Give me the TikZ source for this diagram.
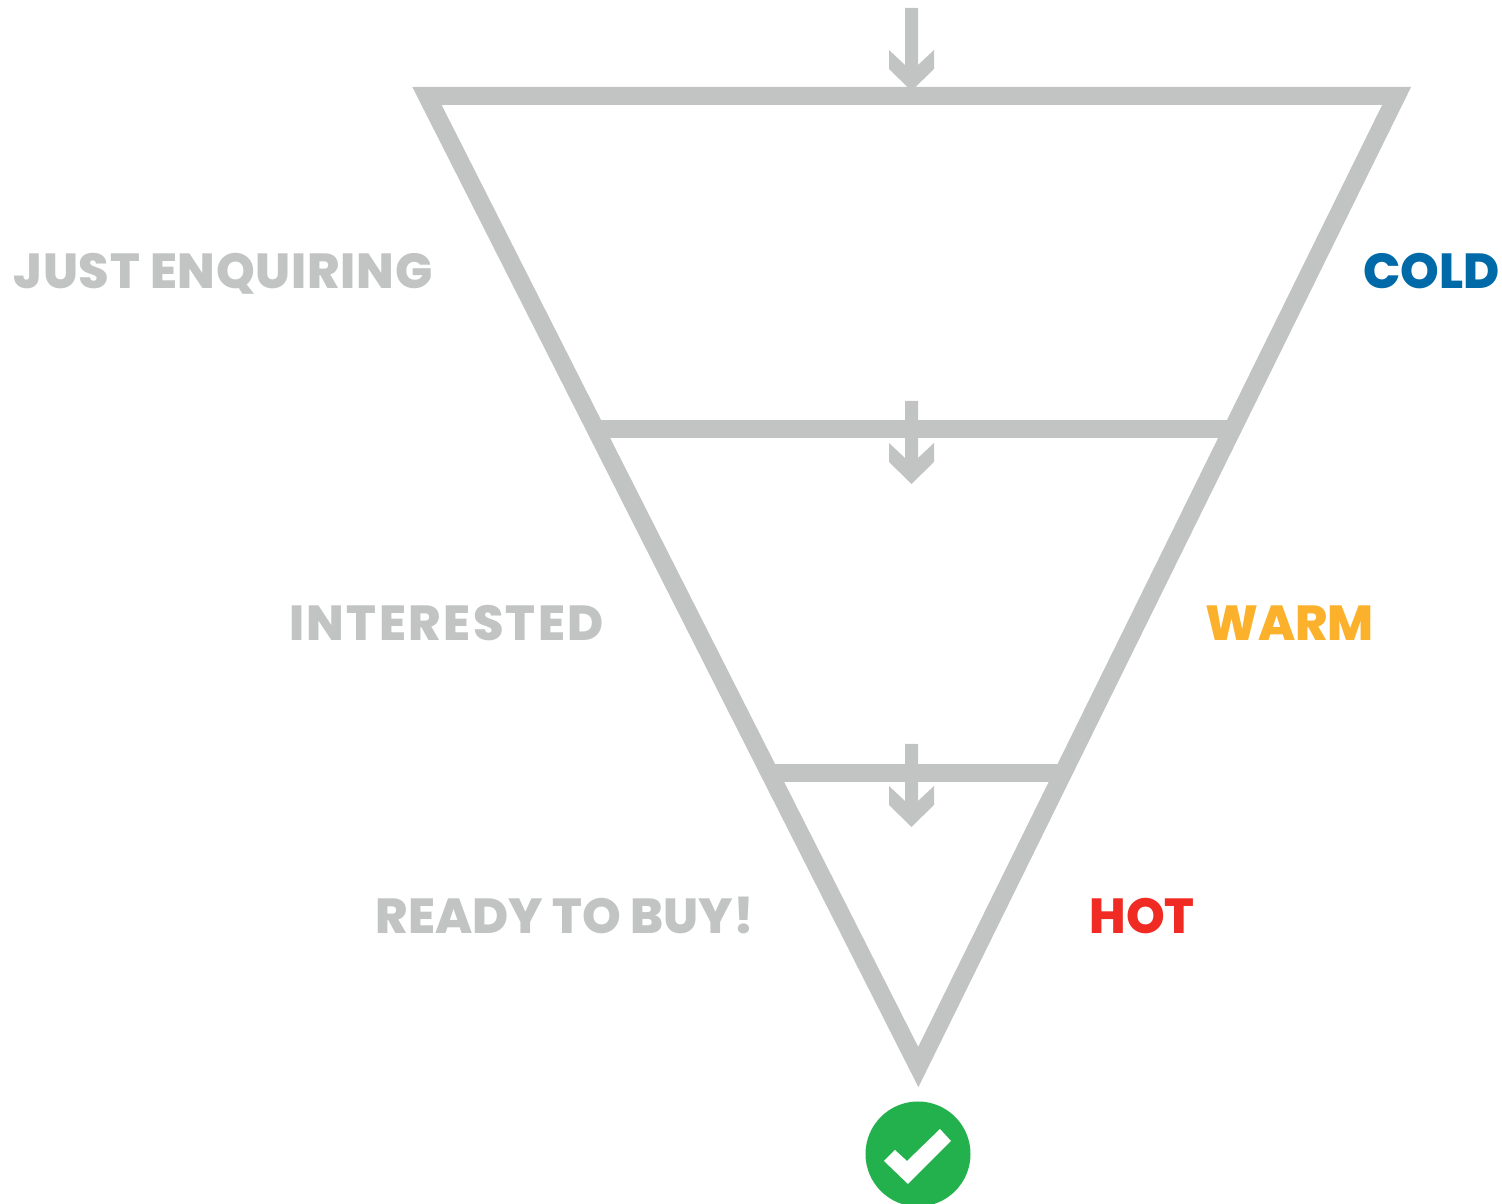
\documentclass[tikz,border=0pt]{standalone}
\usepackage{fontspec}
\usepackage{xcolor}
\usetikzlibrary{calc}
\setmainfont{Poppins}
\newfontfamily\labelfont{Poppins ExtraBold}
\definecolor{funnel}{HTML}{C2C4C3}
\definecolor{cold}{HTML}{0069A8}
\definecolor{warm}{HTML}{FBB12B}
\definecolor{hot}{HTML}{EF2B24}
\definecolor{done}{HTML}{22B14C}

\begin{document}
\begin{tikzpicture}[
          x=0.01cm,y=-0.01cm,
          every node/.style={inner sep=0pt,anchor=base},
          tracked/.style={font=\labelfont\addfontfeature{LetterSpace=#1}\fontsize{14}{17}\selectfont},
          wall/.style={draw=funnel,line width=0.18cm},
          stage/.style={text=funnel},
          temp/.style={text=#1},
          downarrow/.pic={
            \fill[funnel] (-6.5,-83) -- (6.5,-83) -- (6.5,-26) -- (22.5,-41) -- (22.5,-22)
              -- (0,0) -- (-22.5,-22) -- (-22.5,-41) -- (-6.5,-26) -- cycle;
          },
      ]
        \clip (0,0) rectangle (1502,1204);

        \coordinate (tl) at (427,96);
        \coordinate (tr) at (1396.6,96);
        \coordinate (ap) at (918.3,1067);

        % funnel outline and the two bars
        \draw[wall,miter limit=10] (tl) -- (tr) -- (ap) -- cycle;
        \draw[wall] ($(tl)!0.343!(ap)$) -- ($(tr)!0.343!(ap)$);
        \draw[wall] ($(tl)!0.697!(ap)$) -- ($(tr)!0.697!(ap)$);

        \pic at (911.5,91) {downarrow};
        \pic at (911.5,484) {downarrow};
        \pic at (911.5,827) {downarrow};

        \node[stage,tracked=1.5] (enquiring) at (223,289) {JUST ENQUIRING};
        \node[stage,tracked=5] (interested) at (446.5,641) {INTERESTED};
        \node[stage,tracked=0] (ready) at (565,934) {READY TO BUY!};

        \node[temp=cold,tracked=0] (coldlabel) at (1431.5,289) {COLD};
        \node[temp=warm,tracked=0] (warmlabel) at (1289.5,641) {WARM};
        \node[temp=hot,tracked=0] (hotlabel) at (1142,934) {HOT};

        % check badge
        \fill[done] (918,1154) circle (52.5);
        \fill[white] (884,1161) -- (895,1150) -- (907,1161) -- (940,1129) -- (951,1141)
          -- (908,1184) -- cycle;
      \end{tikzpicture}
\end{document}
